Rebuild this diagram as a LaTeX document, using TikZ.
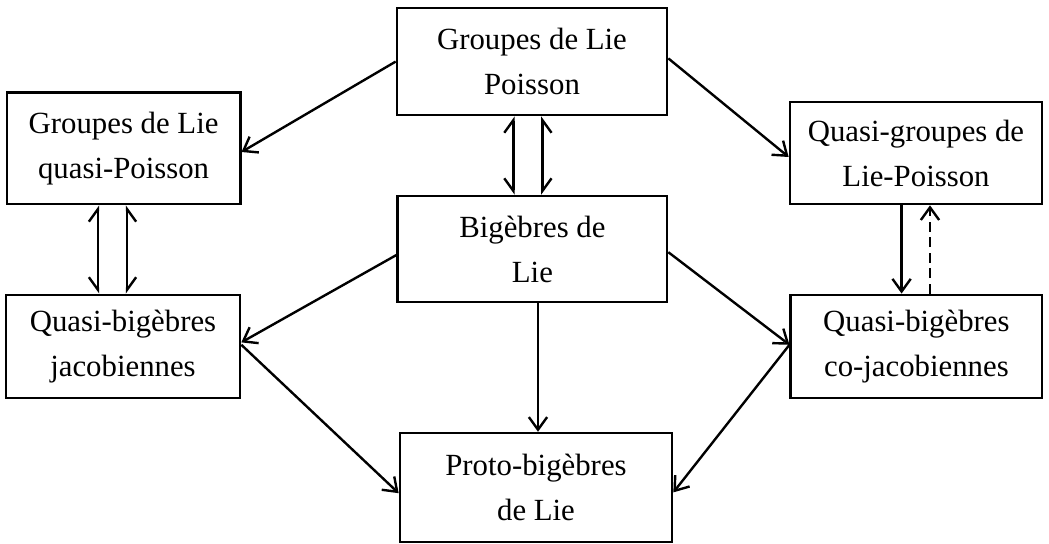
\documentclass[tikz,border=0pt]{standalone}
\usepackage{fontspec}
\setmainfont{Liberation Serif}
\usetikzlibrary{arrows.meta}
\begin{document}
\begin{tikzpicture}[
    box/.style={draw,line width=1.9pt,align=center,inner sep=0pt,font=\fontsize{21.9}{32}\selectfont},
    arr/.style={line width=1.7pt,-{Straight Barb[length=9pt,width=13pt,line width=1.7pt]}},
    harpl/.style={line width=1.7pt,{Straight Barb[harpoon,swap,length=9pt,width=13pt,line width=1.7pt]}-{Straight Barb[harpoon,length=9pt,width=13pt,line width=1.7pt]}},
    harpr/.style={line width=1.7pt,{Straight Barb[harpoon,length=9pt,width=13pt,line width=1.7pt]}-{Straight Barb[harpoon,swap,length=9pt,width=13pt,line width=1.7pt]}}
  ]
  \useasboundingbox (0,0) rectangle (26.225,13.6);
  % boxes
  \node[box,minimum width=6.75cm,minimum height=2.675cm] (glp) at (13.3,12.06) {Groupes de Lie\\Poisson};
  \node[box,minimum width=5.83cm,minimum height=2.78cm] (glqp) at (3.09,9.89) {Groupes de Lie\\quasi-Poisson};
  \node[box,minimum width=6.3cm,minimum height=2.55cm] (qglp) at (22.9,9.775) {Quasi-groupes de\\Lie-Poisson};
  \node[box,minimum width=6.73cm,minimum height=2.65cm] (big) at (13.31,7.375) {Bigèbres de\\Lie};
  \node[box,minimum width=5.85cm,minimum height=2.575cm] (qbj) at (3.075,4.94) {Quasi-bigèbres\\jacobiennes};
  \node[box,minimum width=6.28cm,minimum height=2.575cm] (qbcj) at (22.91,4.94) {Quasi-bigèbres\\co-jacobiennes};
  \node[box,minimum width=6.8cm,minimum height=2.725cm] (proto) at (13.4,1.41) {Proto-bigèbres\\de Lie};
  % arrows
  \draw[arr] (glp.west) -- ([yshift=-0.09cm]glqp.east);
  \draw[arr] ([yshift=0.08cm]glp.east) -- ([yshift=-0.1cm]qglp.west);
  \draw[arr] ([yshift=-0.15cm]big.west) -- ([yshift=0.1cm]qbj.east);
  \draw[arr] ([yshift=-0.08cm]big.east) -- ([yshift=0.04cm]qbcj.west);
  \draw[arr] ([xshift=0.14cm]big.south) -- ([xshift=0.14cm]big.south |- proto.north);
  \draw[arr] ([yshift=0.04cm]qbj.east) -- ([yshift=-0.14cm]proto.west);
  \draw[arr] ([yshift=0.04cm]qbcj.west) -- ([yshift=-0.12cm]proto.east);
  % vertical pairs
  \draw[harpl] ([xshift=-0.475cm]big.north) -- ([xshift=-0.475cm]big.north |- glp.south);
  \draw[harpr] ([xshift=0.25cm]big.north) -- ([xshift=0.25cm]big.north |- glp.south);
  \draw[harpl] ([xshift=-0.625cm]qbj.north) -- ([xshift=-0.625cm]qbj.north |- glqp.south);
  \draw[harpr] ([xshift=0.1cm]qbj.north) -- ([xshift=0.1cm]qbj.north |- glqp.south);
  \draw[arr] ([xshift=-0.36cm]qglp.south) -- ([xshift=-0.36cm]qglp.south |- qbcj.north);
  \draw[arr,dash pattern=on 7pt off 4pt] ([xshift=0.34cm]qbcj.north) -- ([xshift=0.34cm]qbcj.north |- qglp.south);
\end{tikzpicture}
\end{document}
